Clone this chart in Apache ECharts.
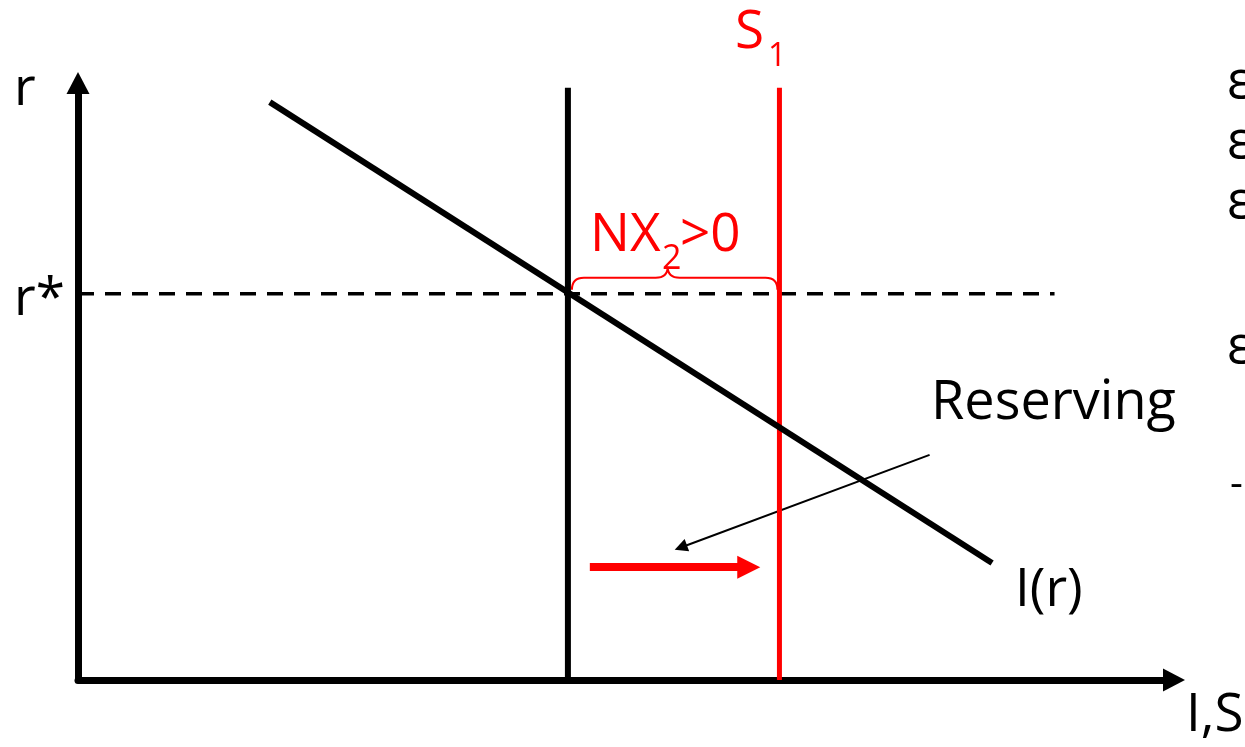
<!DOCTYPE html>
<html>
<head>
<meta charset="utf-8">
<script src="https://cdn.jsdelivr.net/npm/echarts@6/dist/echarts.min.js"></script>
<style>
  html, body { margin: 0; padding: 0; background: #fff; }
  #chart { width: 1245px; height: 747px; }
</style>
</head>
<body>
<div id="chart"></div>
<script>
// diagram values (axis units 0..100 on both axes)
const investCurve = [[17.5, 96.8], [83.4, 19.6]];   // I(r)
const savingsX = [44.7, 64.0];                       // S (black), S1 (red)
const savingsTop = 99.2;
const rStar = 64.7;
const rStarEnd = 89.1;
const shiftArrow = [[46.7, 18.9], [61.2, 18.9]];
const reservingArrow = [[77.7, 37.7], [55.0, 22.2]];

const font = '"Open Sans", "DejaVu Sans", sans-serif';

let chart = echarts.init(document.getElementById('chart'));

// text helper, y is the baseline
function label(text, x, baseline, size, color) {
  return {
    type: 'text',
    left: x,
    top: baseline - size * 1.02 + 10,
    style: {
      text: text,
      fontFamily: font,
      fontSize: size,
      fill: color || '#000'
    }
  };
}

let option = {
  animation: false,
  grid: { left: 78, right: 71, top: 83, bottom: 67 },
  xAxis: {
    type: 'value',
    min: 0,
    max: 100,
    axisLine: {
      show: true,
      onZero: false,
      symbol: ['none', 'triangle'],
      symbolSize: [23, 22],
      lineStyle: { color: '#000', width: 7 }
    },
    axisTick: { show: false },
    axisLabel: { show: false },
    splitLine: { show: false }
  },
  yAxis: {
    type: 'value',
    min: 0,
    max: 100,
    axisLine: {
      show: true,
      onZero: false,
      symbol: ['none', 'triangle'],
      symbolSize: [23, 22],
      lineStyle: { color: '#000', width: 7 }
    },
    axisTick: { show: false },
    axisLabel: { show: false },
    splitLine: { show: false }
  },
  series: [
    {
      type: 'line',
      data: [[0, rStar], [rStarEnd, rStar]],
      symbol: 'none',
      lineStyle: { color: '#000', width: 3.5, type: [16, 11] }
    },
    {
      type: 'line',
      data: [[savingsX[0], 0], [savingsX[0], savingsTop]],
      symbol: 'none',
      lineStyle: { color: '#000', width: 6 }
    },
    {
      type: 'line',
      data: [[savingsX[1], 0], [savingsX[1], savingsTop]],
      symbol: 'none',
      lineStyle: { color: '#ff0000', width: 5 }
    },
    {
      type: 'line',
      data: investCurve,
      symbol: 'none',
      lineStyle: { color: '#000', width: 6 }
    },
    {
      type: 'lines',
      coordinateSystem: 'cartesian2d',
      symbol: ['none', 'triangle'],
      symbolSize: 23,
      lineStyle: { color: '#ff0000', width: 8, opacity: 1 },
      data: [{ coords: shiftArrow }]
    },
    {
      type: 'lines',
      coordinateSystem: 'cartesian2d',
      symbol: ['none', 'triangle'],
      symbolSize: 13,
      lineStyle: { color: '#000', width: 2, opacity: 1 },
      data: [{ coords: reservingArrow }]
    },
    {
      // curly brace over the gap between S and S1
      type: 'custom',
      data: [[savingsX[0], savingsX[1], rStar]],
      renderItem: function (params, api) {
        let a = api.coord([api.value(0), api.value(2)]);
        let b = api.coord([api.value(1), api.value(2)]);
        let x0 = a[0] + 4, x1 = b[0] - 2, y0 = a[1] - 4;
        let yb = y0 - 12, yp = y0 - 23, r = 12;
        let mid = (x0 + x1) / 2 - 7;
        let path = 'M' + x0 + ' ' + y0 +
          ' Q' + x0 + ' ' + yb + ' ' + (x0 + r) + ' ' + yb +
          ' L' + (mid - r) + ' ' + yb +
          ' Q' + mid + ' ' + yb + ' ' + mid + ' ' + yp +
          ' Q' + mid + ' ' + yb + ' ' + (mid + r) + ' ' + yb +
          ' L' + (x1 - r) + ' ' + yb +
          ' Q' + x1 + ' ' + yb + ' ' + x1 + ' ' + y0;
        return {
          type: 'path',
          shape: { pathData: path },
          style: { stroke: '#ff0000', lineWidth: 2, fill: null }
        };
      }
    }
  ],
  graphic: [
    label('r', 14, 107, 53),
    label('r*', 14, 317, 53),
    label('S', 735, 50, 53, '#ff0000'),
    label('1', 768, 64, 32, '#ff0000'),
    label('NX', 590, 253, 53, '#ff0000'),
    label('2', 662, 267, 34, '#ff0000'),
    label('>0', 680, 253, 53, '#ff0000'),
    label('Reserving', 931, 422, 54),
    label('I(r)', 1015, 608, 53),
    label('I,S', 1186, 733, 53),
    label('ε', 1227, 100, 53),
    label('ε', 1227, 160, 53),
    label('ε', 1227, 220, 53),
    label('ε', 1227, 365, 53),
    label('-', 1230, 495, 40)
  ]
};

chart.setOption(option);
</script>
</body>
</html>
